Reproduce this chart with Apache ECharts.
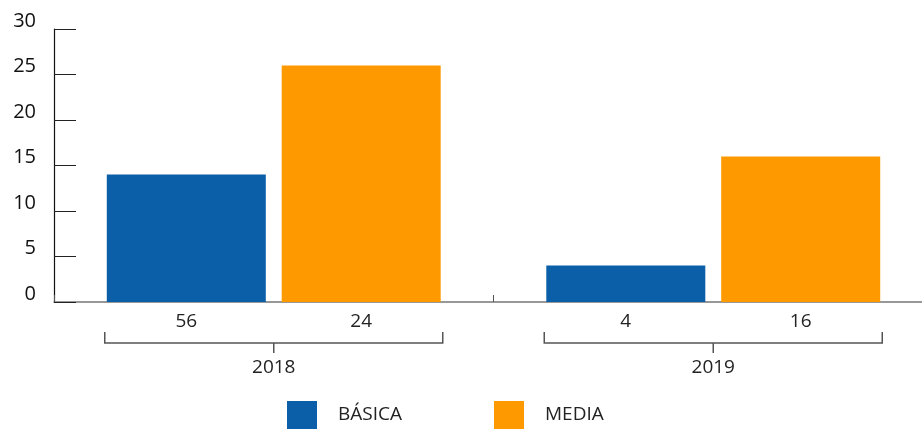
<!DOCTYPE html>
<html>
<head>
<meta charset="utf-8">
<script src="https://cdn.jsdelivr.net/npm/echarts@6/dist/echarts.min.js"></script>
<style>
  html, body { margin: 0; padding: 0; background: #fff; }
</style>
</head>
<body>
<div id="chart" style="width: 922px; height: 430px"></div>
<script>
var years = ["2018", "2019"];
var basica = [14, 4];
var media = [26, 16];
var basicaLabels = ["56", "4"];
var mediaLabels = ["24", "16"];
var yTicks = [0, 5, 10, 15, 20, 25, 30];

var font = "Open Sans";
var myChart = echarts.init(document.getElementById("chart"));

var option = {
  animation: false,
  grid: {
    left: 54,
    top: 29,
    right: -11,
    bottom: 128,
    outerBoundsMode: "none",
  },
  legend: [
    {
      left: 287,
      top: 401,
      padding: 0,
      itemWidth: 30,
      itemHeight: 28,
      icon: "rect",
      data: ["BÁSICA"],
      textStyle: { fontFamily: font, fontSize: 19, color: "#222", padding: [0, 0, 0, 16] },
    },
    {
      left: 494,
      top: 401,
      padding: 0,
      itemWidth: 30,
      itemHeight: 28,
      icon: "rect",
      data: ["MEDIA"],
      textStyle: { fontFamily: font, fontSize: 19, color: "#222", padding: [0, 0, 0, 16] },
    },
  ],
  xAxis: {
    type: "category",
    data: years,
    axisLine: { lineStyle: { color: "#777", width: 1.5 } },
    axisTick: { show: true, inside: true, length: 7, lineStyle: { color: "#555" } },
    axisLabel: {
      fontFamily: font,
      fontSize: 19,
      color: "#222",
      margin: 56,
    },
  },
  yAxis: {
    type: "value",
    min: yTicks[0],
    max: yTicks[yTicks.length - 1],
    interval: 5,
    splitLine: { show: false },
    axisLine: { show: true, lineStyle: { color: "#111", width: 1.2 } },
    axisTick: { show: true, inside: true, length: 22, lineStyle: { color: "#222" } },
    axisLabel: {
      fontFamily: font,
      fontSize: 20,
      color: "#111",
      margin: 18,
      verticalAlign: "bottom",
      padding: [0, 0, -2, 0],
    },
  },
  series: [
    {
      name: "BÁSICA",
      type: "bar",
      data: basica,
      barWidth: 159,
      barGap: "10%",
      itemStyle: { color: "#0b5fa8" },
      label: {
        show: true,
        position: "bottom",
        distance: 10,
        fontFamily: font,
        fontSize: 19,
        color: "#222",
        formatter: function (p) {
          return basicaLabels[p.dataIndex];
        },
      },
    },
    {
      name: "MEDIA",
      type: "bar",
      data: media,
      barWidth: 159,
      itemStyle: { color: "#fe9900" },
      label: {
        show: true,
        position: "bottom",
        distance: 10,
        fontFamily: font,
        fontSize: 19,
        color: "#222",
        formatter: function (p) {
          return mediaLabels[p.dataIndex];
        },
      },
    },
  ],
};
myChart.setOption(option);

// brackets under each year group
var bracketEls = [];
years.forEach(function (y) {
  var cx = myChart.convertToPixel({ xAxisIndex: 0 }, y);
  var half = 169;
  bracketEls.push({
    type: "polyline",
    shape: {
      points: [
        [cx - half, 332],
        [cx - half, 343],
        [cx + half, 343],
        [cx + half, 332],
      ],
    },
    style: { stroke: "#555", lineWidth: 1.5, fill: null },
  });
  bracketEls.push({
    type: "line",
    shape: { x1: cx, y1: 343, x2: cx, y2: 353 },
    style: { stroke: "#555", lineWidth: 1.5 },
  });
});
myChart.setOption({ graphic: bracketEls });
</script>
</body>
</html>
